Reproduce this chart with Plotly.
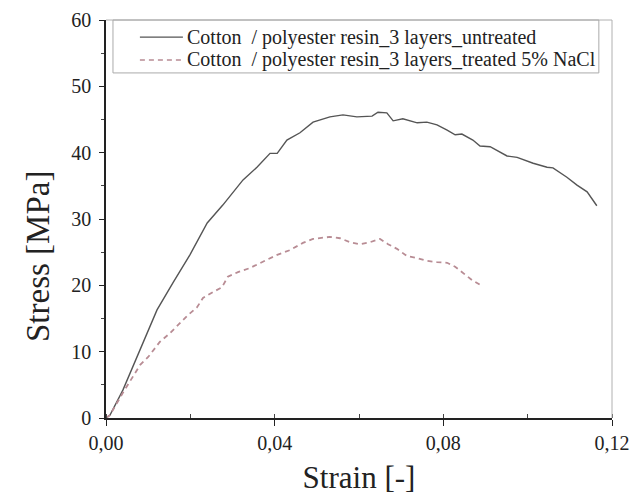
import plotly.graph_objects as go

# Untreated sample
strain_untreated = [0, 0.00095, 0.0040, 0.0081, 0.0121, 0.0159, 0.0199, 0.0240, 0.0277, 0.0325,
                    0.0358, 0.0389, 0.0406, 0.0429, 0.0460, 0.0491, 0.0531, 0.0562, 0.0595, 0.0631,
                    0.0645, 0.0666, 0.0681, 0.0704, 0.0738, 0.0761, 0.0785, 0.0809, 0.0828, 0.0844,
                    0.0870, 0.0887, 0.0911, 0.0951, 0.0975, 0.1013, 0.1046, 0.1060, 0.1093, 0.1117,
                    0.1141, 0.1164]
stress_untreated = [0, 0.45, 4.2, 10.25, 16.3, 20.4, 24.6, 29.4, 32.1, 35.9,
                    37.8, 39.9, 39.9, 41.9, 43.0, 44.6, 45.4, 45.7, 45.4, 45.5,
                    46.1, 46.0, 44.8, 45.1, 44.5, 44.6, 44.2, 43.4, 42.7, 42.8,
                    41.9, 41.0, 40.9, 39.5, 39.3, 38.4, 37.8, 37.7, 36.3, 35.1,
                    34.1, 32.0]

# Treated 5% NaCl sample
strain_treated = [0, 0.00095, 0.0040, 0.0064, 0.0081, 0.0100, 0.0128, 0.0152, 0.0175, 0.0194,
                  0.0216, 0.0230, 0.0254, 0.0275, 0.0289, 0.0313, 0.0341, 0.0372, 0.0406, 0.0436,
                  0.0467, 0.0491, 0.0531, 0.0555, 0.0579, 0.0602, 0.0626, 0.0650, 0.0669, 0.0690,
                  0.0714, 0.0738, 0.0761, 0.0785, 0.0809, 0.0828, 0.0847, 0.0868, 0.0892]
stress_treated = [0, 0.45, 3.8, 6.2, 8.0, 9.2, 11.5, 12.8, 14.3, 15.5,
                  16.7, 18.1, 19.0, 19.7, 21.3, 22.0, 22.6, 23.5, 24.6, 25.3,
                  26.4, 27.0, 27.3, 27.1, 26.5, 26.2, 26.5, 27.0, 26.2, 25.5,
                  24.4, 24.1, 23.7, 23.5, 23.4, 22.8, 21.9, 20.8, 19.9]

name_untreated = "Cotton  / polyester resin_3 layers_untreated"
name_treated = "Cotton  / polyester resin_3 layers_treated 5% NaCl"

x_ticks = [0.00, 0.04, 0.08, 0.12]
y_ticks = [0, 10, 20, 30, 40, 50, 60]

FONT = "Liberation Serif, Times New Roman, serif"
COL_U = "#555555"
COL_T = "#b88c94"
DASH_T = "5px,4px"

fig = go.Figure()
fig.add_trace(go.Scatter(x=strain_untreated, y=stress_untreated, mode="lines",
                         name=name_untreated, showlegend=False,
                         line=dict(color=COL_U, width=1.4)))
fig.add_trace(go.Scatter(x=strain_treated, y=stress_treated, mode="lines",
                         name=name_treated, showlegend=False,
                         line=dict(color=COL_T, width=1.8, dash=DASH_T)))

# legend box geometry (paper coordinates of the plot area)
LX0, LX1, LY0, LY1 = 0.0138, 0.974, 0.867, 1.0
SX0, SX1, TX = 0.067, 0.152, 0.156
ROW1, ROW2 = 0.957, 0.8995

fig.update_layout(
    width=633, height=488,
    margin=dict(l=98, r=29, t=12, b=78),
    paper_bgcolor="white", plot_bgcolor="white",
    font=dict(family=FONT, color="#222", size=15),
    separators=",.",
    showlegend=False,
    shapes=[
        dict(type="line", xref="paper", yref="paper", x0=0, x1=1, y0=1, y1=1,
             line=dict(color="#b0b0b0", width=1)),
        dict(type="line", xref="paper", yref="paper", x0=1, x1=1, y0=0, y1=1,
             line=dict(color="#b0b0b0", width=1)),
        dict(type="rect", xref="paper", yref="paper", x0=LX0, x1=LX1, y0=LY0, y1=LY1,
             line=dict(color="#aaaaaa", width=1), fillcolor="rgba(0,0,0,0)"),
        dict(type="line", xref="paper", yref="paper", x0=SX0, x1=SX1, y0=ROW1, y1=ROW1,
             line=dict(color=COL_U, width=1.4)),
        dict(type="line", xref="paper", yref="paper", x0=SX0, x1=SX1, y0=ROW2, y1=ROW2,
             line=dict(color=COL_T, width=1.6, dash=DASH_T)),
    ],
    annotations=[
        dict(text="Stress [MPa]", xref="paper", yref="paper",
             x=-68 / 506, y=(418 - 257) / 398, xanchor="center", yanchor="middle",
             textangle=-90, showarrow=False, font=dict(size=33, family=FONT, color="#222")),
        dict(text=name_untreated, xref="paper", yref="paper", x=TX, y=ROW1,
             xanchor="left", yanchor="middle", showarrow=False,
             font=dict(size=20, family=FONT, color="#222")),
        dict(text=name_treated, xref="paper", yref="paper", x=TX, y=ROW2,
             xanchor="left", yanchor="middle", showarrow=False,
             font=dict(size=20, family=FONT, color="#222")),
    ],
)

fig.update_xaxes(
    range=[0, 0.12], tickvals=x_ticks, tickformat=".2f",
    showgrid=False, zeroline=False, automargin=False,
    showline=True, linecolor="#222", linewidth=1.5,
    ticks="outside", ticklen=6, tickcolor="#222",
    minor=dict(dtick=0.02, ticks="inside", ticklen=4, tickcolor="#444"),
    tickfont=dict(size=20, family=FONT),
    title=dict(text="Strain [-]", font=dict(size=31, family=FONT), standoff=14),
)
fig.update_yaxes(
    range=[0, 60], tickvals=y_ticks,
    showgrid=False, zeroline=False, automargin=False,
    showline=True, linecolor="#222", linewidth=1.5,
    ticks="outside", ticklen=5, tickcolor="#222",
    minor=dict(dtick=5, ticks="outside", ticklen=3, tickcolor="#444"),
    tickfont=dict(size=20, family=FONT),
    ticklabelstandoff=4,
)

fig.write_html("out.html")
